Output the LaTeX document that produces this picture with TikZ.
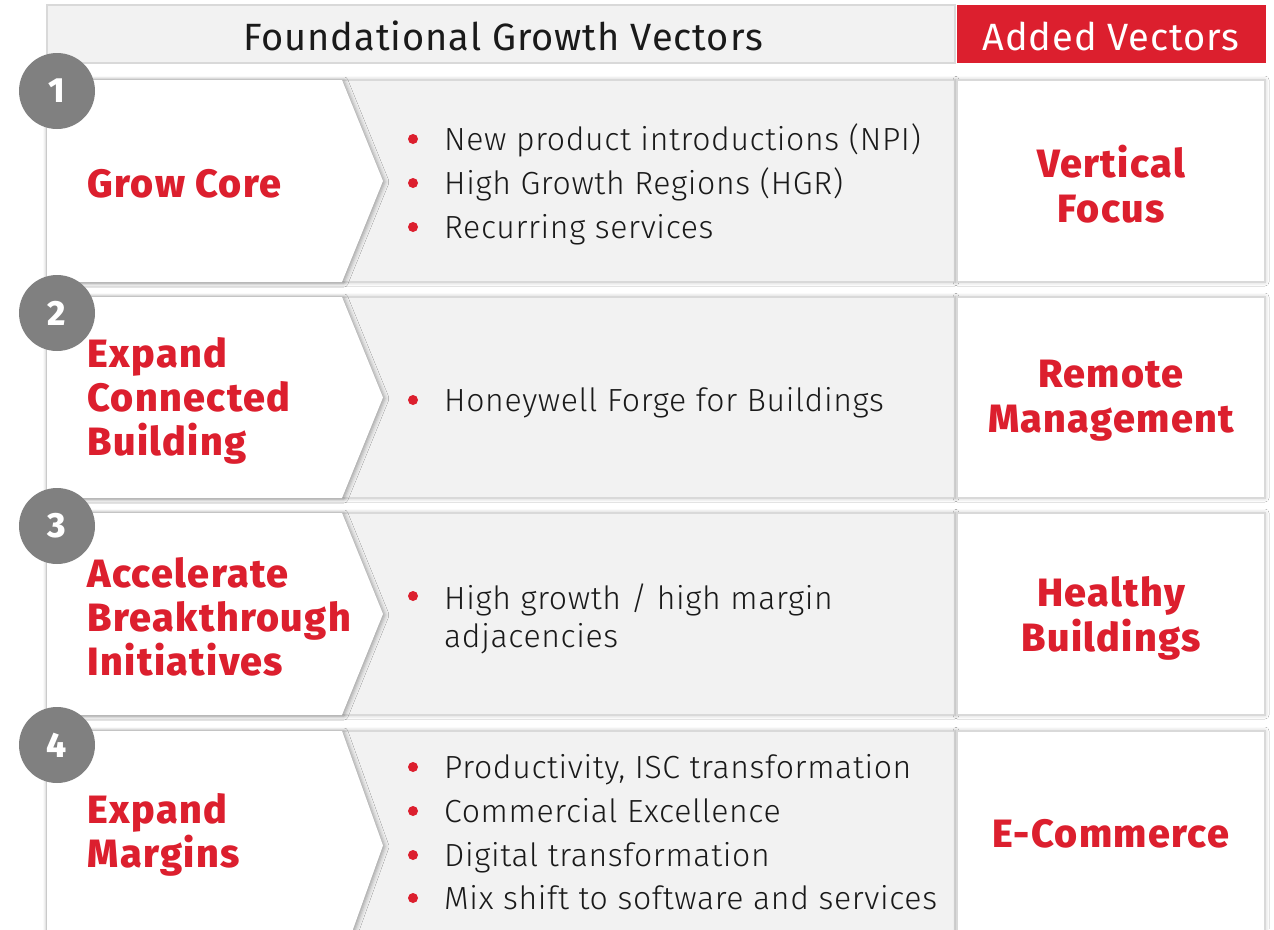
\documentclass[tikz,border=0pt]{standalone}
\usepackage{fontspec}
\setmainfont{Fira Sans}
\newfontfamily\lightf{Fira Sans Light}[LetterSpace=2]
\newfontfamily\heavyf{Fira Sans ExtraBold}
\newfontfamily\heavyls{Fira Sans ExtraBold}[LetterSpace=3.5]
\newfontfamily\hdrf{Fira Sans}[LetterSpace=2.5]
\usetikzlibrary{shadows.blur}
\definecolor{hred}{HTML}{DC1F2E}
\definecolor{boxg}{HTML}{F2F2F2}
\definecolor{lineg}{HTML}{D9D9D9}
\definecolor{numg}{HTML}{808080}
\definecolor{txt}{HTML}{1A1A1A}
\begin{document}
\begin{tikzpicture}[x=1pt,y=-1pt,
  hdrbox/.style={draw=lineg, fill=boxg, line width=1.2pt},
  hdrtxt/.style={font=\hdrf\fontsize{38}{40}\selectfont, text=txt},
  rowbox/.style={draw=lineg, fill=boxg, line width=1.2pt, blur shadow={shadow xshift=0pt, shadow yshift=0pt, shadow blur radius=4pt, shadow opacity=30}},
  chev/.style={fill=white, blur shadow={shadow xshift=2pt, shadow yshift=-1pt, shadow blur radius=4pt, shadow opacity=35}},
  rbox/.style={draw=lineg, fill=white, line width=1.2pt, blur shadow={shadow xshift=0pt, shadow yshift=0pt, shadow blur radius=4pt, shadow opacity=25}},
  num/.style={circle, fill=numg, minimum size=76pt, inner sep=0pt, text=white, font=\heavyf\fontsize{35}{36}\selectfont},
  lbl/.style={anchor=west, align=left, text=hred, font=\heavyls\fontsize{39.5}{44}\selectfont},
  rlbl/.style={align=center, text=hred, font=\heavyls\fontsize{39.5}{45}\selectfont},
  bul/.style={circle, fill=hred, minimum size=10pt, inner sep=0pt},
  btxt/.style={anchor=base west, align=left, text=txt, font=\lightf\fontsize{32}{38}\selectfont, inner sep=0pt}
]
\useasboundingbox (0,0) rectangle (1274,929);
\clip (0,0) rectangle (1274,929);
\fill[white] (0,0) rectangle (1274,929);

% header
\draw[hdrbox] (47,5) rectangle (955,63);
\node[hdrtxt] (hl) at (503,36) {Foundational Growth Vectors};
\fill[hred] (957,5) rectangle (1266,63);
\node[hdrtxt, text=white] (hr) at (1111,36) {Added Vectors};

% rows
\foreach \t/\b in {80/282, 297/498, 513/715, 731/960}{
  \pgfmathsetmacro{\m}{(\t+\b)/2}
  \draw[rowbox] (47,\t) rectangle (955,\b);
  \fill[chev] (47,\t) -- (342,\t) -- (383,\m) -- (342,\b) -- (47,\b) -- cycle;
  \draw[rbox] (957,\t) rectangle (1265,\b);
}

% numbers
\node[num] (n1) at (57,91) {1};
\node[num] (n2) at (57,313) {2};
\node[num] (n3) at (57,526) {3};
\node[num] (n4) at (57,745) {4};

% left labels
\node[lbl] (l1) at (84,184) {Grow Core};
\node[lbl] (l2) at (84,401) {Expand\\Connected\\Building};
\node[lbl] (l3) at (84,617) {Accelerate\\Breakthrough\\Initiatives};
\node[lbl] (l4) at (84,835) {Expand\\Margins};

% right labels
\node[rlbl] (r1) at (1111,184) {Vertical\\Focus};
\node[rlbl] (r2) at (1111,401) {Remote\\Management};
\node[rlbl] (r3) at (1111,618) {Healthy\\Buildings};
\node[rlbl] (r4) at (1111,834) {E-Commerce};

% bullets
\node[bul] (b11) at (413,139) {}; \node[btxt] (t11) at (444,150) {New product introductions (NPI)};
\node[bul] (b12) at (413,183) {}; \node[btxt] (t12) at (444,194) {High Growth Regions (HGR)};
\node[bul] (b13) at (413,227) {}; \node[btxt] (t13) at (444,238) {Recurring services};

\node[bul] (b21) at (413,400) {}; \node[btxt] (t21) at (444,411) {Honeywell Forge for Buildings};

\node[bul] (b31) at (413,596) {}; \node[btxt, anchor=north west] (t31) at (444,584) {High growth / high margin\\adjacencies};

\node[bul] (b41) at (413,767) {}; \node[btxt] (t41) at (444,778) {Productivity, ISC transformation};
\node[bul] (b42) at (413,811) {}; \node[btxt] (t42) at (444,822) {Commercial Excellence};
\node[bul] (b43) at (413,855) {}; \node[btxt] (t43) at (444,866) {Digital transformation};
\node[bul] (b44) at (413,898) {}; \node[btxt] (t44) at (444,909) {Mix shift to software and services};
\end{tikzpicture}
\end{document}
